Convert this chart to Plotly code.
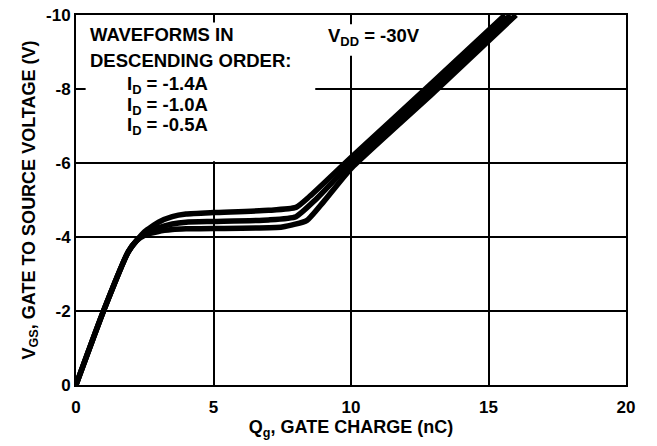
import plotly.graph_objects as go

# Gate charge (nC) and VGS (V), one curve per drain current
labels = ["I<sub>D</sub> = -1.4A", "I<sub>D</sub> = -1.0A", "I<sub>D</sub> = -0.5A"]

qg_14 = [0, 1.0, 1.9, 2.2, 2.5, 3.0, 3.5, 4.0, 5.0, 7.0, 8.0, 8.5, 10.0, 13.0, 15.6]
vgs_14 = [0, -2.0, -3.6, -3.9, -4.15, -4.4, -4.55, -4.62, -4.66, -4.72, -4.8, -5.1, -6.15, -8.2, -10.0]

qg_10 = [0, 1.0, 1.9, 2.2, 2.5, 3.0, 3.5, 4.0, 5.0, 7.0, 8.0, 8.7, 10.0, 13.0, 15.8]
vgs_10 = [0, -2.0, -3.6, -3.9, -4.1, -4.25, -4.35, -4.4, -4.42, -4.46, -4.55, -5.0, -6.0, -8.05, -10.0]

qg_05 = [0, 1.0, 1.9, 2.2, 2.5, 3.0, 3.5, 4.0, 5.0, 7.5, 8.4, 9.0, 10.0, 13.0, 16.0]
vgs_05 = [0, -2.0, -3.6, -3.9, -4.05, -4.15, -4.2, -4.22, -4.23, -4.27, -4.45, -4.95, -5.85, -7.9, -10.0]

x_ticks = [0, 5, 10, 15, 20]
y_ticks = [0, -2, -4, -6, -8, -10]

FONT = "Liberation Sans, Arial, sans-serif"

fig = go.Figure()
for q, v, name in [(qg_14, vgs_14, labels[0]), (qg_10, vgs_10, labels[1]), (qg_05, vgs_05, labels[2])]:
    fig.add_trace(go.Scatter(x=q, y=v, mode="lines", name=name,
                             line=dict(color="black", width=5.5, shape="spline", smoothing=0.5),
                             showlegend=False))

fig.update_layout(
    width=657, height=446,
    margin=dict(l=76, r=31, t=15, b=61),
    paper_bgcolor="white", plot_bgcolor="white",
    font=dict(family=FONT, size=17, color="black"),
    xaxis=dict(range=[0, 20], tickvals=x_ticks, ticktext=[str(t) for t in x_ticks],
               showgrid=True, gridcolor="black", gridwidth=1.5,
               showline=True, linecolor="black", linewidth=2, mirror=True,
               zeroline=False, ticks="outside", ticklen=6, tickcolor="rgba(0,0,0,0)",
               automargin=False,
               tickfont=dict(family=FONT, size=17, color="black", weight="bold"),
               title=dict(text="<b>Q<sub>g</sub>, GATE CHARGE (nC)</b>", standoff=4,
                          font=dict(family=FONT, size=18, color="black"))),
    yaxis=dict(range=[0, -10], tickvals=y_ticks, ticktext=[str(t) for t in y_ticks],
               showgrid=True, gridcolor="black", gridwidth=1.5,
               showline=True, linecolor="black", linewidth=2, mirror=True,
               zeroline=False, ticks="", ticklen=0, automargin=False,
               tickfont=dict(family=FONT, size=17, color="black", weight="bold"),
               title=dict(text="<b>V<sub>GS</sub>, GATE TO SOURCE VOLTAGE (V)</b>", standoff=6,
                          font=dict(family=FONT, size=18, color="black"))),
)

# white boxes behind the text blocks (they hide the grid there, as in the reference)
fig.add_shape(type="rect", xref="x", yref="y", x0=0.35, x1=8.7, y0=-6.05, y1=-9.8,
              fillcolor="white", line=dict(width=0), layer="above")
fig.add_shape(type="rect", xref="x", yref="y", x0=8.9, x1=12.9, y0=-8.9, y1=-9.75,
              fillcolor="white", line=dict(width=0), layer="above")

ann_font = dict(family=FONT, size=18.5, color="black")
fig.add_annotation(xref="paper", yref="paper", x=0.022, y=0.946, xanchor="left", yanchor="middle",
                   text="<b>WAVEFORMS IN</b>", showarrow=False, font=ann_font)
fig.add_annotation(xref="paper", yref="paper", x=0.022, y=0.878, xanchor="left", yanchor="middle",
                   text="<b>DESCENDING ORDER:</b>", showarrow=False, font=ann_font)
for i, lab in enumerate(labels):
    fig.add_annotation(xref="paper", yref="paper", x=0.089, y=0.81 - i * 0.055, xanchor="left",
                       yanchor="middle", text="<b>" + lab + "</b>", showarrow=False, font=ann_font)
fig.add_annotation(xref="paper", yref="paper", x=0.455, y=0.94, xanchor="left", yanchor="middle",
                   text="<b>V<sub>DD</sub> = -30V</b>", showarrow=False, font=ann_font)

fig.write_html("out.html", config={"displayModeBar": False},
               post_script="document.body.style.margin='0';")
